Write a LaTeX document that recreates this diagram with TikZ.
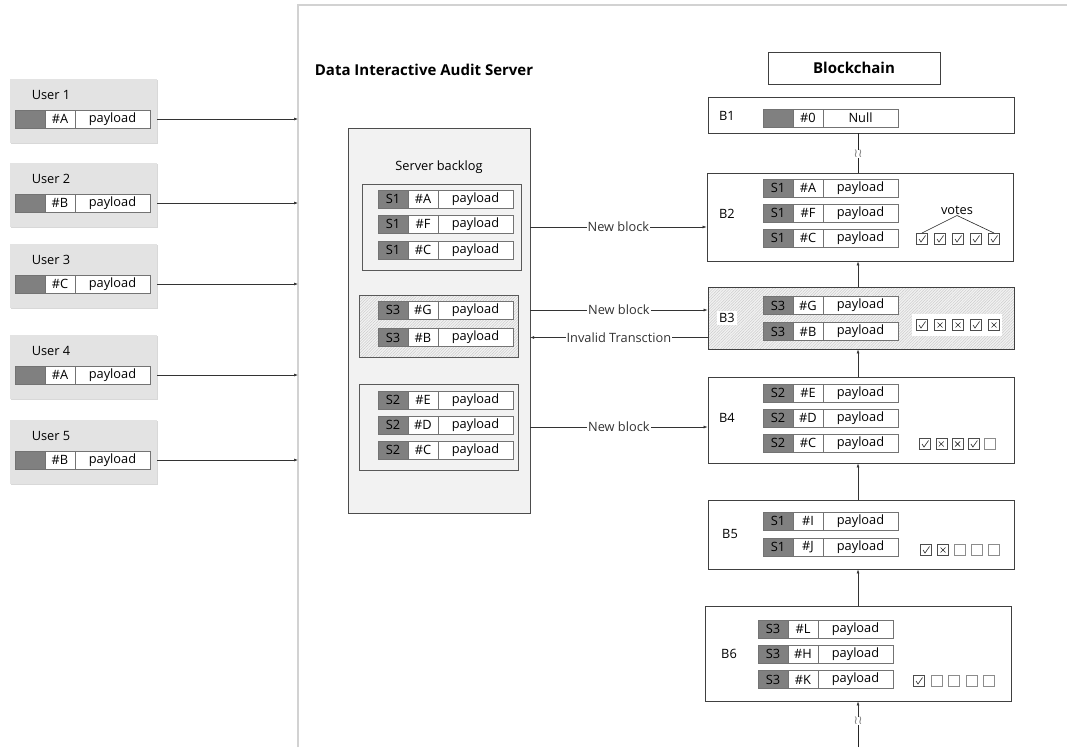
\documentclass[tikz,border=0pt]{standalone}
\usepackage{fontspec}
\setmainfont{Open Sans}
\newfontfamily\symfont{DejaVu Sans}
\usetikzlibrary{positioning,arrows.meta,patterns.meta,shadows}

\tikzset{
  every node/.style={font=\fontsize{12.8}{15}\selectfont},
  cell/.style={draw=black!55, fill=white, minimum height=18pt, inner sep=0pt, outer sep=0pt},
  tagcell/.style={cell, fill=black!50, minimum width=30pt},
  idcell/.style={cell, minimum width=30pt},
  paycell/.style={cell, minimum width=75pt},
  userbox/.style={fill=gray!22, minimum width=147pt, minimum height=64pt,
    drop shadow={shadow xshift=1.2pt, shadow yshift=-1.2pt, fill=gray!60}},
  serverbox/.style={draw=black!70, fill=gray!10, minimum width=182pt, minimum height=385pt},
  groupbox/.style={draw=black!65, fill=gray!10, minimum width=159pt},
  hatch/.style={preaction={fill=gray!10}, pattern={Lines[angle=45, distance=2pt, line width=0.5pt]}, pattern color=gray!40},
  hatchbox/.style={groupbox, hatch},
  block/.style={draw=black!75, fill=white, line width=0.9pt, minimum width=306pt},
  hatchblock/.style={block, hatch},
  heading/.style={font=\bfseries\fontsize{15}{18}\selectfont},
  arr/.style={-{Latex[length=4pt,width=3pt]}, black!80, line width=0.6pt},
  link/.style={black!85, line width=0.6pt},
  lbl/.style={fill=white, inner sep=1pt},
  squig/.style={text=gray, inner sep=0pt, font=\symfont\fontsize{12}{12}\selectfont},
  panel/.style={gray!35, line width=1.5pt},
  yes/.pic={\draw[black!70, line width=0.5pt] (-5.5pt,-5.5pt) rectangle (5.5pt,5.5pt);
    \draw[black!85, line width=0.6pt] (-3pt,0pt) -- (-1pt,-3pt) -- (3.5pt,3.5pt);},
  no/.pic={\draw[black!70, line width=0.5pt] (-5.5pt,-5.5pt) rectangle (5.5pt,5.5pt);
    \draw[black!85, line width=0.6pt] (-2.5pt,-2.5pt) -- (2.5pt,2.5pt) (-2.5pt,2.5pt) -- (2.5pt,-2.5pt);},
  open/.pic={\draw[black!45, line width=0.5pt] (-5.5pt,-5.5pt) rectangle (5.5pt,5.5pt);}
}

% one record: name, west point, tag, id, payload
\newcommand\record[5]{%
  \node[tagcell, anchor=west] (#1-t) at (#2) {#3};
  \node[idcell, right=0pt of #1-t] (#1-i) {#4};
  \node[paycell, right=0pt of #1-i] (#1-p) {#5};}

\begin{document}
\begin{tikzpicture}[x=1pt, y=-1pt]
  \useasboundingbox (0,0) rectangle (1067,747);

  % server panel
  \draw[panel] (298,747) -- (298,5) -- (1067,5);
  \node[heading] (title) at (424,70) {Data Interactive Audit Server};
  \node[heading, draw=black!75, line width=0.9pt, minimum width=172pt, minimum height=32pt] (chain) at (854,68) {Blockchain};

  % users
  \foreach \i/\y/\id in {1/119/A, 2/203/B, 3/284/C, 4/375/A, 5/460/B} {
    \node[userbox] (u\i) at (83.5,\y-8) {};
    \node (u\i-name) at (51,\y-24) {User \i};
    \record{u\i}{15,\y}{}{\#\id}{payload}
    \coordinate (in\i) at (298,\y);
    \draw[arr] (u\i.east |- u\i-p) -- (in\i);
  }

  % server backlog
  \node[serverbox] (srv) at (439,320.5) {};
  \node (backlog) at (439,167) {Server backlog};
  \node[groupbox, minimum height=86pt] (g1) at (441.5,227) {};
  \record{g1a}{378,199}{S1}{\#A}{payload}
  \record{g1b}{378,224}{S1}{\#F}{payload}
  \record{g1c}{378,250}{S1}{\#C}{payload}
  \node[hatchbox, minimum height=62pt] (g2) at (438.5,326) {};
  \record{g2a}{378,310}{S3}{\#G}{payload}
  \record{g2b}{378,337.5}{S3}{\#B}{payload}
  \node[groupbox, minimum height=86pt] (g3) at (438.5,427) {};
  \record{g3a}{378,400}{S2}{\#E}{payload}
  \record{g3b}{378,425}{S2}{\#D}{payload}
  \record{g3c}{378,450}{S2}{\#C}{payload}

  % blockchain
  \coordinate (axis) at (858,0);
  \node[block, minimum height=36pt] (b1) at (861,115) {};
  \node (b1-name) at (727,116) {B1};
  \record{b1r}{763,118}{}{\#0}{Null}

  \node[block, minimum height=88pt] (b2) at (860,217) {};
  \node (b2-name) at (727,214) {B2};
  \record{b2a}{763,188}{S1}{\#A}{payload}
  \record{b2b}{763,213}{S1}{\#F}{payload}
  \record{b2c}{763,238}{S1}{\#C}{payload}
  \node[inner sep=1pt] (votes) at (957,210) {votes};
  \coordinate (vfirst) at (922,233);
  \coordinate (vlast) at (994,233);
  \draw[link] (vfirst) -- (votes.south) -- (vlast);
  \foreach \v [count=\k] in {yes,yes,yes,yes,yes}
    \pic at ({922+(\k-1)*18},239) {\v};

  \node[hatchblock, minimum height=62pt] (b3) at (861,318) {};
  \node[fill=white, inner sep=2pt] (b3-name) at (727,318) {B3};
  \record{b3a}{763,305.5}{S3}{\#G}{payload}
  \record{b3b}{763,331.5}{S3}{\#B}{payload}
  \node[fill=white, minimum width=90pt, minimum height=22pt] (b3-votes) at (957,325) {};
  \foreach \v [count=\k] in {yes,no,no,yes,no}
    \pic at ({922+(\k-1)*18},325) {\v};

  \node[block, minimum height=86pt] (b4) at (861,420) {};
  \node (b4-name) at (727,418) {B4};
  \record{b4a}{763,393}{S2}{\#E}{payload}
  \record{b4b}{763,418}{S2}{\#D}{payload}
  \record{b4c}{763,443}{S2}{\#C}{payload}
  \foreach \v [count=\k] in {yes,no,no,yes,open}
    \pic at ({925+(\k-1)*16.3},444) {\v};

  \node[block, minimum height=69pt] (b5) at (861,534.5) {};
  \node (b5-name) at (730,534) {B5};
  \record{b5a}{763,521}{S1}{\#I}{payload}
  \record{b5b}{763,547}{S1}{\#J}{payload}
  \foreach \v [count=\k] in {yes,no,open,open,open}
    \pic at ({926+(\k-1)*17},550) {\v};

  \node[block, minimum height=95pt] (b6) at (858,653.5) {};
  \node (b6-name) at (729,654) {B6};
  \record{b6a}{758,629}{S3}{\#L}{payload}
  \record{b6b}{758,654}{S3}{\#H}{payload}
  \record{b6c}{758,679.5}{S3}{\#K}{payload}
  \foreach \v [count=\k] in {yes,open,open,open,open}
    \pic at ({919+(\k-1)*17.5},681) {\v};

  % chain links
  \node[squig] (w1) at (858,154) {≀≀};
  \draw[link] (b1.south -| axis) -- (w1.north);
  \draw[link] (w1.south) -- (b2.north -| axis);
  \draw[arr] (b3.north -| axis) -- (b2.south -| axis);
  \draw[arr] (b4.north -| axis) -- (b3.south -| axis);
  \draw[arr] (b5.north -| axis) -- (b4.south -| axis);
  \draw[arr] (b6.north -| axis) -- (b5.south -| axis);
  \coordinate (tail) at (858,747);
  \node[squig] (w2) at (858,721) {≀≀};
  \draw[link] (tail) -- (w2.south);
  \draw[arr] (w2.north) -- (b6.south -| axis);

  % server to chain
  \draw[arr] (g1.east -| srv.east) -- (b2.west |- g1.east) node[midway, lbl] {New block};
  \draw[arr] (g2a-p.east -| srv.east) -- (b3.west |- g2a-p.east) node[midway, lbl] {New block};
  \draw[arr] (b3.west |- g2b-p.east) -- (g2b-p.east -| srv.east) node[midway, lbl] {Invalid Transction};
  \draw[arr] (g3.east -| srv.east) -- (b4.west |- g3.east) node[midway, lbl] {New block};
\end{tikzpicture}
\end{document}
